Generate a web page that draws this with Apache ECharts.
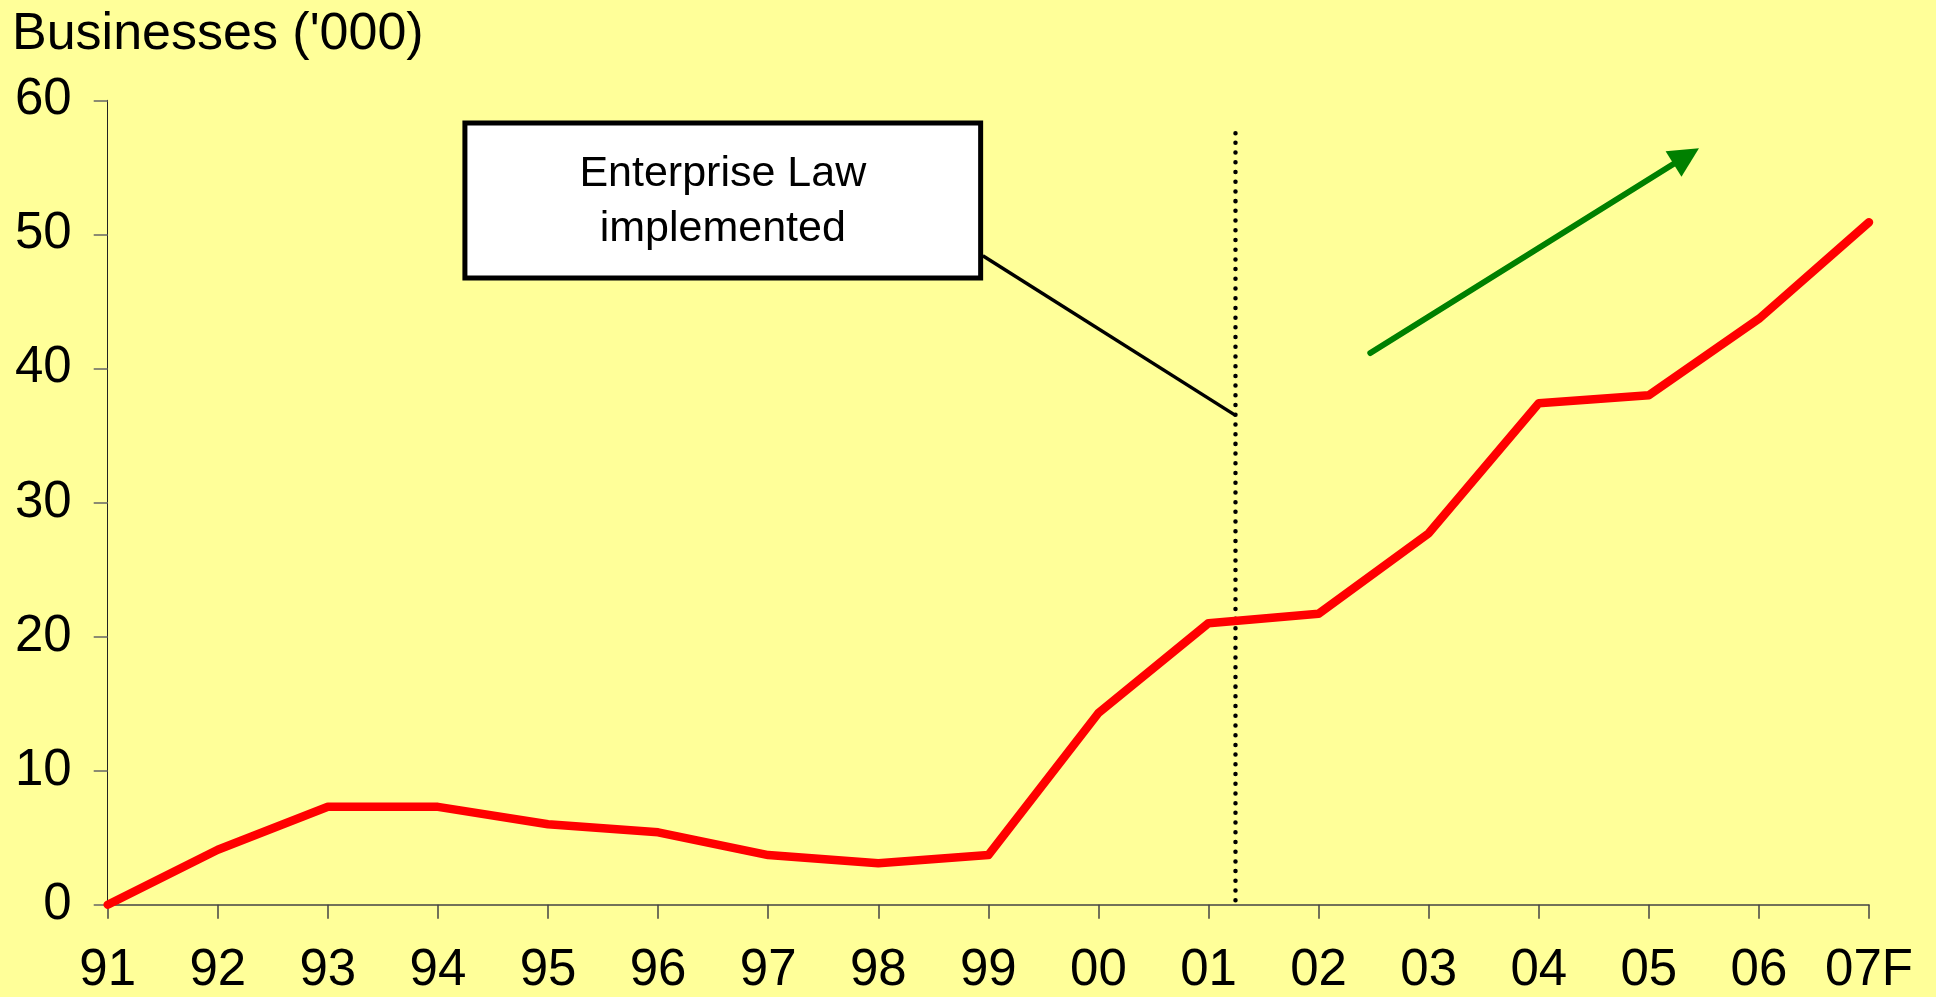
<!DOCTYPE html>
<html>
<head>
<meta charset="utf-8">
<title>Businesses ('000)</title>
<script src="https://cdn.jsdelivr.net/npm/echarts@6/dist/echarts.min.js"></script>
<style>
  html, body { margin: 0; padding: 0; background: #FFFF99; }
  #chart { width: 1936px; height: 997px; }
</style>
</head>
<body>
<div id="chart"></div>
<script>
// Years on the horizontal axis (07F = forecast)
const years = ['91', '92', '93', '94', '95', '96', '97', '98', '99', '00', '01', '02', '03', '04', '05', '06', '07F'];
// Number of registered businesses, thousands
const businesses = [0, 4.1, 7.3, 7.3, 6.0, 5.4, 3.7, 3.1, 3.7, 14.3, 21.0, 21.7, 27.7, 37.4, 38.0, 43.7, 50.9];
// Value-axis ticks
const yTicks = [0, 10, 20, 30, 40, 50, 60];

// Annotations, in axis units (x = year index, y = thousands)
const lawBox = [3.245, 58.3, 7.93, 46.75];          // x1, yTop, x2, yBottom
const lawText = ['Enterprise Law', 'implemented'];
const lawConnector = [[7.95, 48.4], [10.245, 36.5]];
const lawMarker = [[10.245, 57.55], [10.245, -0.32]];
const trendArrow = [[11.47, 41.15], [14.34, 55.84]];

const FONT = '"Liberation Sans", Arial, sans-serif';

const chart = echarts.init(document.getElementById('chart'), null, { renderer: 'canvas' });

chart.setOption({
  backgroundColor: '#FFFF99',
  animation: false,
  title: {
    text: "Businesses ('000)",
    left: 12,
    top: 9,
    padding: 0,
    textStyle: { fontFamily: FONT, fontSize: 52, fontWeight: 'normal', color: '#000' }
  },
  grid: { left: 107.7, right: 67, top: 100.3, bottom: 92.3, containLabel: false },
  xAxis: {
    type: 'value',
    min: 0,
    max: years.length - 1,
    interval: 1,
    splitLine: { show: false },
    axisLine: { show: true, onZero: false, lineStyle: { color: '#444', width: 1.5 } },
    axisTick: { show: true, inside: false, length: 14, lineStyle: { color: '#444', width: 1.5 } },
    axisLabel: {
      margin: 41,
      fontFamily: FONT, fontSize: 51, color: '#000',
      formatter: v => years[v] ?? ''
    }
  },
  yAxis: {
    type: 'value',
    min: yTicks[0],
    max: yTicks[yTicks.length - 1],
    interval: 10,
    splitLine: { show: false },
    axisLine: { show: true, lineStyle: { color: '#222', width: 1 } },
    axisTick: { show: true, inside: false, length: 14, lineStyle: { color: '#666', width: 1.5 } },
    axisLabel: { margin: 36, fontFamily: FONT, fontSize: 51, color: '#000' }
  },
  series: [
    {
      // dotted marker for the year the law took effect
      type: 'line',
      data: lawMarker,
      clip: false,
      symbol: 'none',
      silent: true,
      lineStyle: { color: '#000', width: 4.5, type: [0.01, 9.7], cap: 'round' },
      z: 3
    },
    {
      // callout connector from the box to the marker
      type: 'line',
      data: lawConnector,
      clip: false,
      symbol: 'none',
      silent: true,
      lineStyle: { color: '#000', width: 3.5 },
      z: 3
    },
    {
      // callout box
      type: 'custom',
      data: [lawBox],
      clip: false,
      silent: true,
      z: 4,
      renderItem: (params, api) => {
        const p1 = api.coord([api.value(0), api.value(1)]);
        const p2 = api.coord([api.value(2), api.value(3)]);
        const cx = (p1[0] + p2[0]) / 2;
        const cy = (p1[1] + p2[1]) / 2;
        return {
          type: 'group',
          children: [
            {
              type: 'rect',
              shape: { x: p1[0], y: p1[1], width: p2[0] - p1[0], height: p2[1] - p1[1] },
              style: { fill: '#FFFFFF', stroke: '#000', lineWidth: 5 }
            },
            {
              type: 'text',
              style: {
                x: cx, y: cy + 1,
                text: lawText.join('\n'),
                align: 'center', verticalAlign: 'middle',
                font: '43px ' + FONT,
                lineHeight: 55,
                fill: '#000'
              }
            }
          ]
        };
      }
    },
    {
      // upward trend arrow
      type: 'lines',
      coordinateSystem: 'cartesian2d',
      silent: true,
      data: [{ coords: trendArrow }],
      symbol: ['none', 'triangle'],
      symbolSize: [28, 30],
      lineStyle: { color: '#008000', width: 6, opacity: 1, curveness: 0, cap: 'round' },
      z: 3
    },
    {
      name: 'Businesses',
      type: 'line',
      data: businesses.map((v, i) => [i, v]),
      symbol: 'none',
      clip: false,
      lineStyle: { color: '#FF0000', width: 8.5, cap: 'round', join: 'round' },
      z: 5
    }
  ]
});
</script>
</body>
</html>
